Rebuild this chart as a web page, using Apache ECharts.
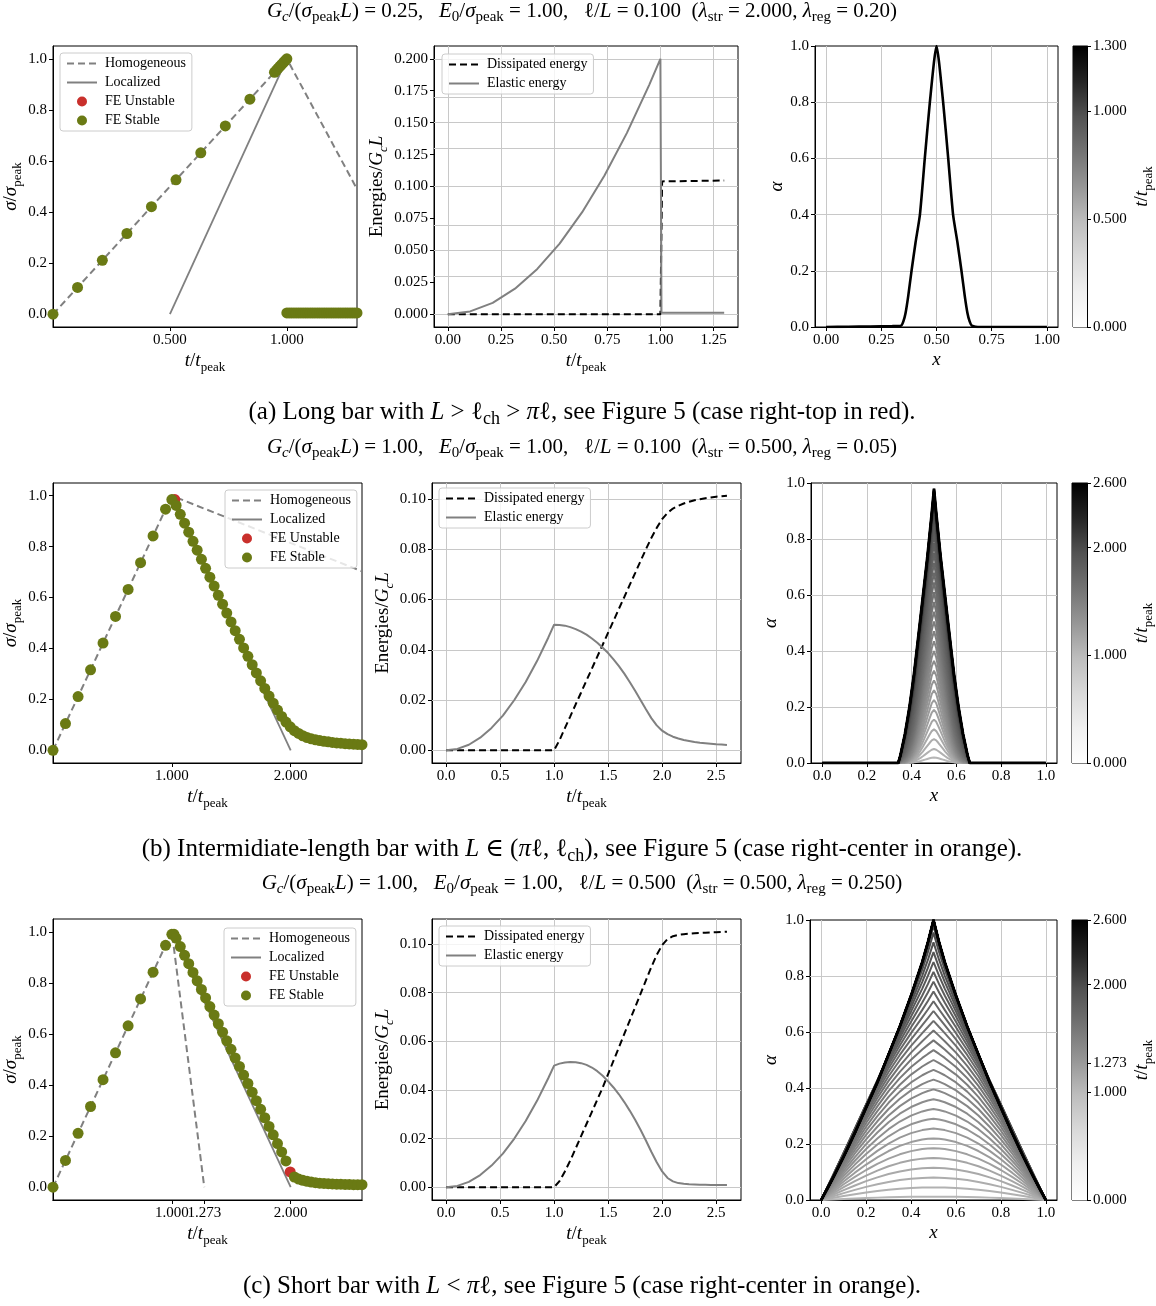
<!DOCTYPE html>
<html><head><meta charset="utf-8">
<script src="https://cdn.jsdelivr.net/npm/echarts@6.0.0/dist/echarts.min.js"></script>
<style>html,body{margin:0;padding:0;background:#fff}#c{width:1156px;height:1306px}</style>
</head><body><div id="c"></div>
<script>
const F = "'Liberation Serif','DejaVu Serif',serif";

// ---------- shared load steps ----------
const tRise = [0, 0.105, 0.211, 0.316, 0.421, 0.526, 0.632, 0.737, 0.842, 0.947];
const sRise = [0, 0.105, 0.211, 0.316, 0.421, 0.526, 0.632, 0.737, 0.842, 0.947];
const tDesc = [1.036, 1.071, 1.107, 1.142, 1.178, 1.213, 1.249, 1.284, 1.320, 1.356,
  1.391, 1.427, 1.462, 1.498, 1.533, 1.569, 1.604, 1.640, 1.676, 1.711,
  1.747, 1.782, 1.818, 1.853, 1.889, 1.924, 1.960, 1.996, 2.031, 2.067,
  2.102, 2.138, 2.173, 2.209, 2.244, 2.280, 2.316, 2.351, 2.387, 2.422,
  2.458, 2.493, 2.529, 2.564, 2.600];

// ---------- (a) long bar ----------
const homT_a = [0, 1.0, 1.3], homS_a = [0, 1.0, 0.49];
const locT_a = [0.5, 1.0], locS_a = [0, 1.0];
const peakT_a = [0.955, 0.962, 0.970, 0.977, 0.985, 0.992, 1.0];
const peakS_a = [0.955, 0.962, 0.970, 0.977, 0.985, 0.992, 1.0];
const flatT_a = [1.0, 1.01, 1.02, 1.03, 1.04, 1.05, 1.06, 1.07, 1.08, 1.09, 1.1, 1.11, 1.12, 1.13, 1.14, 1.15,
  1.16, 1.17, 1.18, 1.19, 1.2, 1.21, 1.22, 1.23, 1.24, 1.25, 1.26, 1.27, 1.28, 1.29, 1.3];
const flatS_a = [0.005, 0.005, 0.005, 0.005, 0.005, 0.005, 0.005, 0.005, 0.005, 0.005, 0.005, 0.005, 0.005,
  0.005, 0.005, 0.005, 0.005, 0.005, 0.005, 0.005, 0.005, 0.005, 0.005, 0.005, 0.005, 0.005, 0.005, 0.005,
  0.005, 0.005, 0.005];
const unstT_a = [], unstS_a = [];
const elT_a = [0, 0.105, 0.211, 0.316, 0.421, 0.526, 0.632, 0.737, 0.842, 0.947, 1.0, 1.005, 1.3];
const el_a = [0, 0.0022, 0.0089, 0.020, 0.0355, 0.0553, 0.0799, 0.1086, 0.1418, 0.1794, 0.200, 0.0012, 0.0012];
const disT_a = [0, 1.0, 1.005, 1.008, 1.3];
const dis_a = [0, 0, 0.001, 0.104, 0.1047];
const alphaX_a = [0, 0.1, 0.2, 0.3, 0.34, 0.35, 0.36, 0.372, 0.387, 0.405, 0.425, 0.447, 0.47, 0.5,
  0.53, 0.553, 0.575, 0.595, 0.613, 0.628, 0.64, 0.65, 0.66, 0.7, 0.8, 0.9, 1.0];
const alpha_a = [0, 0.001, 0.002, 0.003, 0.005, 0.02, 0.05, 0.11, 0.2, 0.3, 0.4, 0.6, 0.8, 1.0,
  0.8, 0.6, 0.4, 0.3, 0.2, 0.11, 0.05, 0.02, 0.005, 0, 0, 0, 0];
const cbTicks_a = [0, 0.5, 1.0, 1.3];

// ---------- (b) intermediate bar ----------
const homT_b = [0, 1.0, 2.6], homS_b = [0, 1.0, 0.703];
const locT_b = [1.0, 2.0], locS_b = [1.0, 0];
const topT_b = [1.0], topS_b = [0.985];
const unstT_b = [1.025], unstS_b = [0.985];
const sDesc_b = [0.962, 0.927, 0.892, 0.857, 0.821, 0.786, 0.750, 0.715, 0.680, 0.645,
  0.609, 0.574, 0.539, 0.504, 0.470, 0.436, 0.402, 0.369, 0.336, 0.304,
  0.273, 0.243, 0.213, 0.185, 0.158, 0.133, 0.111, 0.092, 0.077, 0.066,
  0.057, 0.050, 0.045, 0.041, 0.038, 0.035, 0.033, 0.031, 0.029, 0.028,
  0.026, 0.025, 0.024, 0.023, 0.022];
const tE = [0, 0.105, 0.211, 0.316, 0.421, 0.526, 0.632, 0.737, 0.842, 0.947, 1.0,
  1.05, 1.1, 1.15, 1.2, 1.25, 1.3, 1.35, 1.4, 1.45, 1.5, 1.55, 1.6, 1.65, 1.7, 1.75, 1.8, 1.85, 1.9, 1.95, 2.0,
  2.05, 2.1, 2.15, 2.2, 2.25, 2.3, 2.35, 2.4, 2.45, 2.5, 2.55, 2.6];
const el_b = [0, 0.00055, 0.0022, 0.005, 0.0089, 0.0138, 0.02, 0.0272, 0.0355, 0.0449, 0.050,
  0.0499, 0.0496, 0.049, 0.0482, 0.0472, 0.046, 0.0445, 0.0428, 0.0408, 0.0387,
  0.0362, 0.0335, 0.0305, 0.0272, 0.0237, 0.02, 0.0163, 0.0128, 0.0099, 0.0078,
  0.0064, 0.0054, 0.0047, 0.0041, 0.0037, 0.0033, 0.003, 0.0028, 0.0026, 0.0024, 0.0023, 0.0021];
const dis_b = [0, 0, 0, 0, 0, 0, 0, 0, 0, 0, 0,
  0.004, 0.0088, 0.0135, 0.0183, 0.023, 0.0278, 0.0325, 0.0373, 0.042, 0.0468,
  0.0515, 0.0563, 0.061, 0.0658, 0.0705, 0.0753, 0.08, 0.0845, 0.0885, 0.092,
  0.0945, 0.0962, 0.0973, 0.0982, 0.0989, 0.0995, 0.0999, 0.1003, 0.1006, 0.1009, 0.1011, 0.1013];
const xGrid_b = [0, 0.1, 0.2, 0.3, 0.34, 0.35, 0.36, 0.37, 0.38, 0.39, 0.40, 0.41, 0.42, 0.43, 0.44, 0.45,
  0.46, 0.47, 0.48, 0.49, 0.50, 0.51, 0.52, 0.53, 0.54, 0.55, 0.56, 0.57, 0.58, 0.59, 0.60, 0.61, 0.62,
  0.63, 0.64, 0.65, 0.66, 0.7, 0.8, 0.9, 1.0];
const shapeHigh_b = [0, 0, 0, 0, 0, 0.03, 0.07, 0.11, 0.16, 0.21, 0.27, 0.33, 0.40, 0.47, 0.54, 0.61,
  0.68, 0.75, 0.83, 0.91, 1.0, 0.91, 0.83, 0.75, 0.68, 0.61, 0.54, 0.47, 0.40, 0.33, 0.27, 0.21, 0.16,
  0.11, 0.07, 0.03, 0, 0, 0, 0, 0];
const shapeLow_b = [0, 0, 0, 0, 0, 0, 0, 0, 0.01, 0.03, 0.06, 0.11, 0.18, 0.27, 0.37, 0.48,
  0.6, 0.72, 0.84, 0.95, 1.0, 0.95, 0.84, 0.72, 0.6, 0.48, 0.37, 0.27, 0.18, 0.11, 0.06, 0.03, 0.01,
  0, 0, 0, 0, 0, 0, 0, 0];
const peaks_b = [0.02, 0.05, 0.085, 0.12, 0.155, 0.19, 0.225, 0.26, 0.295, 0.33,
  0.365, 0.40, 0.435, 0.47, 0.505, 0.54, 0.575, 0.61, 0.645, 0.68,
  0.715, 0.75, 0.785, 0.82, 0.85, 0.875, 0.895, 0.91, 0.922, 0.932,
  0.94, 0.946, 0.951, 0.955, 0.959, 0.962, 0.965, 0.968, 0.97, 0.972,
  0.974, 0.976, 0.978, 0.979, 0.98];
const cbTicks_b = [0, 1.0, 2.0, 2.6];

// ---------- (c) short bar ----------
const homT_c = [0, 1.0, 1.273], homS_c = [0, 1.0, 0];
const locT_c = [1.0, 2.0], locS_c = [1.0, 0];
const topT_c = [1.0, 1.018], topS_c = [0.99, 0.99];
const unstT_c = [1.996], unstS_c = [0.060];
const sDesc_c = [0.975, 0.942, 0.908, 0.875, 0.841, 0.808, 0.774, 0.741, 0.707, 0.674,
  0.640, 0.607, 0.573, 0.540, 0.506, 0.473, 0.439, 0.406, 0.372, 0.339,
  0.305, 0.272, 0.238, 0.205, 0.171, 0.138, 0.103, 0.060, 0.040, 0.032,
  0.027, 0.023, 0.020, 0.018, 0.016, 0.015, 0.014, 0.013, 0.012, 0.012,
  0.011, 0.011, 0.010, 0.010, 0.010];
const el_c = [0, 0.00055, 0.0022, 0.005, 0.0089, 0.0138, 0.02, 0.0272, 0.0355, 0.0449, 0.050,
  0.0508, 0.0513, 0.0515, 0.0514, 0.051, 0.0503, 0.0492, 0.0477, 0.0458, 0.0435,
  0.041, 0.0382, 0.035, 0.0315, 0.0277, 0.0236, 0.0192, 0.0146, 0.0103, 0.0065,
  0.0038, 0.0024, 0.0017, 0.0014, 0.0012, 0.0011, 0.001, 0.001, 0.0009, 0.0009, 0.0009, 0.0009];
const dis_c = [0, 0, 0, 0, 0, 0, 0, 0, 0, 0, 0,
  0.0025, 0.0065, 0.011, 0.016, 0.021, 0.026, 0.031, 0.036, 0.041, 0.0465,
  0.052, 0.0575, 0.063, 0.0685, 0.074, 0.0795, 0.085, 0.0905, 0.0955, 0.0995,
  0.102, 0.1032, 0.1037, 0.104, 0.1042, 0.1044, 0.1045, 0.1046, 0.1047, 0.1048, 0.1049, 0.105];
const xGrid_c = [0, 0.05, 0.1, 0.15, 0.2, 0.25, 0.3, 0.35, 0.4, 0.45, 0.475, 0.5, 0.525, 0.55, 0.6,
  0.65, 0.7, 0.75, 0.8, 0.85, 0.9, 0.95, 1.0];
const shapeHigh_c = [0, 0.075, 0.155, 0.24, 0.33, 0.42, 0.52, 0.62, 0.73, 0.85, 0.92, 1.0, 0.92, 0.85, 0.73,
  0.62, 0.52, 0.42, 0.33, 0.24, 0.155, 0.075, 0];
const shapeLow_c = [0, 0.156, 0.309, 0.454, 0.588, 0.707, 0.809, 0.891, 0.951, 0.988, 0.997, 1.0, 0.997, 0.988,
  0.951, 0.891, 0.809, 0.707, 0.588, 0.454, 0.309, 0.156, 0];
const peaks_c = [0.012, 0.045, 0.08, 0.115, 0.15, 0.185, 0.22, 0.255, 0.29, 0.325,
  0.36, 0.395, 0.43, 0.465, 0.5, 0.535, 0.57, 0.605, 0.64, 0.675,
  0.71, 0.745, 0.78, 0.815, 0.85, 0.885, 0.92, 0.955, 0.98, 0.99,
  0.995, 0.997, 0.998, 0.999, 1.0, 1.0, 1.0, 1.0, 1.0, 1.0,
  1.0, 1.0, 1.0, 1.0, 1.0];
const cbTicks_c = [0, 1.0, 1.273, 2.0, 2.6];
const xTicks_c = [1.0, 2.0], xTicksExtra_c = [1.273];

// ---------- helpers ----------
const GREYS = ['#ffffff', '#f0f0f0', '#d9d9d9', '#bdbdbd', '#969696', '#737373', '#525252', '#252525', '#000000'];
function hx(c) { return [1, 3, 5].map(i => parseInt(c.substr(i, 2), 16)); }
function greys(v) {
  v = Math.max(0, Math.min(1, v));
  const p = v * 8, i = Math.min(7, Math.floor(p)), f = p - i;
  const a = hx(GREYS[i]), b = hx(GREYS[i + 1]);
  const c = a.map((x, k) => Math.round(x + (b[k] - x) * f));
  return 'rgb(' + c.join(',') + ')';
}
const P = (ts, ys) => ts.map((t, i) => [t, ys[i]]);
function rich(size) {
  const sub = Math.round(size * 0.7), lh = size + 7;
  const b = {fontFamily: F, color: '#000'};
  return {
    r: Object.assign({fontSize: size, lineHeight: lh}, b),
    i: Object.assign({fontSize: size, lineHeight: lh, fontStyle: 'italic'}, b),
    s: Object.assign({fontSize: sub, lineHeight: sub + 1, verticalAlign: 'bottom'}, b),
    si: Object.assign({fontSize: sub, lineHeight: sub + 1, verticalAlign: 'bottom', fontStyle: 'italic'}, b)
  };
}
const tName = '{i|t}{r|/}{i|t}{s|peak}';
const sigName = '{i|σ}{r|/}{i|σ}{s|peak}';
const enName = '{r|Energies/}{i|G}{si|c}{i|L}';
const alName = '{i|α}';
const xName = '{i|x}';
const NAMEFS = 19;

function vAxis(gi, min, max, ticks, dec, extra) {
  return Object.assign({
    type: 'value', gridIndex: gi, min: min, max: max,
    axisLine: {show: true, onZero: false, lineStyle: {color: '#000', width: 1}},
    axisTick: {show: true, inside: false, length: 4, customValues: ticks, lineStyle: {color: '#000', width: 1}},
    axisLabel: {show: true, customValues: ticks, margin: 6, fontFamily: F, fontSize: 15, color: '#000',
      showMinLabel: true, showMaxLabel: true, hideOverlap: false,
      formatter: v => Number(v).toFixed(dec)},
    splitLine: {show: false},
    nameLocation: 'middle', nameTextStyle: {rich: rich(NAMEFS)}
  }, extra || {});
}
const GL = {color: '#c8c8c8', width: 1, type: 'solid'};
function gridLines(xs, ys) {
  return {silent: true, symbol: ['none', 'none'], z: 1, label: {show: false}, lineStyle: GL,
    emphasis: {disabled: true}, animation: false,
    data: xs.map(v => ({xAxis: v})).concat(ys.map(v => ({yAxis: v})))};
}

const grids = [
  [53, 46, 304, 281], [434, 46, 304, 281], [815, 46, 243, 281], [1073, 46, 15, 281],
  [53, 483, 309, 280], [432, 483, 309, 280], [811, 483, 246, 280], [1072, 483, 16, 280],
  [53, 919, 309, 281], [432, 919, 309, 281], [810, 920, 247, 280], [1072, 920, 17, 280]
].map(g => ({left: g[0], top: g[1], width: g[2], height: g[3], show: true, borderColor: '#000', borderWidth: 1, containLabel: false}));

const xAxes = [], yAxes = [];
function panelStress(gi, xmax, xticks, ymin) {
  xAxes[gi] = vAxis(gi, 0, xmax, xticks, 3, {name: tName, nameGap: 21});
  yAxes[gi] = vAxis(gi, ymin, 1.05, [0, 0.2, 0.4, 0.6, 0.8, 1.0], 1, {name: sigName, nameGap: 24, nameRotate: 90});
}
panelStress(0, 1.3, [0.5, 1.0], -0.05);
panelStress(4, 2.6, [1.0, 2.0], -0.05);
panelStress(8, 2.6, xTicks_c, -0.05);

xAxes[1] = vAxis(1, -0.065, 1.365, [0, 0.25, 0.5, 0.75, 1.0, 1.25], 2, {name: tName, nameGap: 21});
yAxes[1] = vAxis(1, -0.01, 0.21, [0, 0.025, 0.05, 0.075, 0.1, 0.125, 0.15, 0.175, 0.2], 3, {name: enName, nameGap: 41, nameRotate: 90});
xAxes[5] = vAxis(5, -0.13, 2.73, [0, 0.5, 1.0, 1.5, 2.0, 2.5], 1, {name: tName, nameGap: 21});
yAxes[5] = vAxis(5, -0.005065, 0.106365, [0, 0.02, 0.04, 0.06, 0.08, 0.1], 2, {name: enName, nameGap: 36, nameRotate: 90});
xAxes[9] = vAxis(9, -0.13, 2.73, [0, 0.5, 1.0, 1.5, 2.0, 2.5], 1, {name: tName, nameGap: 21});
yAxes[9] = vAxis(9, -0.00525, 0.11025, [0, 0.02, 0.04, 0.06, 0.08, 0.1], 2, {name: enName, nameGap: 36, nameRotate: 90});

xAxes[2] = vAxis(2, -0.05, 1.05, [0, 0.25, 0.5, 0.75, 1.0], 2, {name: xName, nameGap: 20});
yAxes[2] = vAxis(2, 0, 1, [0, 0.2, 0.4, 0.6, 0.8, 1.0], 1, {name: alName, nameGap: 25, nameRotate: 90});
xAxes[6] = vAxis(6, -0.05, 1.05, [0, 0.2, 0.4, 0.6, 0.8, 1.0], 1, {name: xName, nameGap: 20});
yAxes[6] = vAxis(6, 0, 1, [0, 0.2, 0.4, 0.6, 0.8, 1.0], 1, {name: alName, nameGap: 27, nameRotate: 90});
xAxes[10] = vAxis(10, -0.05, 1.05, [0, 0.2, 0.4, 0.6, 0.8, 1.0], 1, {name: xName, nameGap: 20});
yAxes[10] = vAxis(10, 0, 1, [0, 0.2, 0.4, 0.6, 0.8, 1.0], 1, {name: alName, nameGap: 26, nameRotate: 90});

function cbAxes(gi, ticks) {
  xAxes[gi] = {type: 'category', gridIndex: gi, data: ['cb'], show: false};
  yAxes[gi] = vAxis(gi, 0, ticks[ticks.length - 1], ticks, 3, {position: 'right', name: tName, nameGap: 42, nameRotate: 90});
}
cbAxes(3, cbTicks_a); cbAxes(7, cbTicks_b); cbAxes(11, cbTicks_c);
// extra bottom axis in panel (c)-left carrying the 1.273 tick (kept separate so it is not hidden as overlapping)
xAxes[12] = vAxis(8, 0, 2.6, xTicksExtra_c, 3, {position: 'bottom', offset: 0});

// ---------- series ----------
const GRAY = '#808080', GREEN = '#6a7a14', RED = '#c9302c';
const DASH = [7, 4];
const series = [];
function stressSeries(gi, homT, homS, locT, locS, unstT, unstS, stable) {
  series.push({name: 'Homogeneous', type: 'line', xAxisIndex: gi, yAxisIndex: gi, data: P(homT, homS), symbol: 'none',
    lineStyle: {color: GRAY, width: 2, type: DASH}, itemStyle: {color: GRAY}, z: 2});
  series.push({name: 'Localized', type: 'line', xAxisIndex: gi, yAxisIndex: gi, data: P(locT, locS), symbol: 'none',
    lineStyle: {color: GRAY, width: 1.8}, itemStyle: {color: GRAY}, z: 2});
  series.push({name: 'FE Unstable', type: 'scatter', xAxisIndex: gi, yAxisIndex: gi, data: P(unstT, unstS),
    symbolSize: 11, itemStyle: {color: RED, opacity: 1}, z: 3});
  series.push({name: 'FE Stable', type: 'scatter', xAxisIndex: gi, yAxisIndex: gi, data: stable,
    symbolSize: 11, itemStyle: {color: GREEN, opacity: 1}, z: 3});
}
stressSeries(0, homT_a, homS_a, locT_a, locS_a, unstT_a, unstS_a,
  P(tRise, sRise).concat(P(peakT_a, peakS_a), P(flatT_a, flatS_a)));
stressSeries(4, homT_b, homS_b, locT_b, locS_b, unstT_b, unstS_b,
  P(tRise, sRise).concat(P(topT_b, topS_b), P(tDesc, sDesc_b)));
stressSeries(8, homT_c, homS_c, locT_c, locS_c, unstT_c, unstS_c,
  P(tRise, sRise).concat(P(topT_c, topS_c), P(tDesc, sDesc_c).filter(d => unstT_c.indexOf(d[0]) < 0)));

function energySeries(gi, dT, d, eT, e, gx, gy) {
  series.push({name: 'Dissipated energy', type: 'line', xAxisIndex: gi, yAxisIndex: gi, data: P(dT, d), symbol: 'none',
    lineStyle: {color: '#000', width: 2, type: DASH}, itemStyle: {color: '#000'}, z: 2, markLine: gridLines(gx, gy)});
  series.push({name: 'Elastic energy', type: 'line', xAxisIndex: gi, yAxisIndex: gi, data: P(eT, e), symbol: 'none',
    lineStyle: {color: GRAY, width: 2}, itemStyle: {color: GRAY}, z: 2});
}
energySeries(1, disT_a, dis_a, elT_a, el_a, [0, 0.25, 0.5, 0.75, 1.0, 1.25], [0, 0.025, 0.05, 0.075, 0.1, 0.125, 0.15, 0.175, 0.2]);
energySeries(5, tE, dis_b, tE, el_b, [0, 0.5, 1.0, 1.5, 2.0, 2.5], [0, 0.02, 0.04, 0.06, 0.08, 0.1]);
energySeries(9, tE, dis_c, tE, el_c, [0, 0.5, 1.0, 1.5, 2.0, 2.5], [0, 0.02, 0.04, 0.06, 0.08, 0.1]);

// alpha profiles
series.push({name: 'alpha_a', type: 'line', xAxisIndex: 2, yAxisIndex: 2, data: P(alphaX_a, alpha_a), symbol: 'none',
  smooth: 0.2, lineStyle: {color: '#000', width: 2.6}, z: 2, markLine: gridLines([0, 0.25, 0.5, 0.75, 1.0], [0.2, 0.4, 0.6, 0.8])});
function alphaSeries(gi, xs, lo, hi, peaks, tmax) {
  peaks.forEach((p, k) => {
    const last = k === peaks.length - 1;
    const w = p * p;
    const s = {name: 'alpha_' + gi + '_' + k, type: 'line', xAxisIndex: gi, yAxisIndex: gi, symbol: 'none', silent: true,
      data: xs.map((x, j) => [x, p * ((1 - w) * lo[j] + w * hi[j])]),
      lineStyle: {color: greys(tDesc[k] / tmax), width: last ? 2.8 : 2}, z: 2};
    if (k === 0) s.markLine = gridLines([0, 0.2, 0.4, 0.6, 0.8, 1.0], [0.2, 0.4, 0.6, 0.8]);
    series.push(s);
  });
}
alphaSeries(6, xGrid_b, shapeLow_b, shapeHigh_b, peaks_b, 2.6);
alphaSeries(10, xGrid_c, shapeLow_c, shapeHigh_c, peaks_c, 2.6);

// colorbars
const cbGrad = {type: 'linear', x: 0, y: 1, x2: 0, y2: 0, colorStops: GREYS.map((c, i) => ({offset: i / 8, color: c}))};
[[3, cbTicks_a], [7, cbTicks_b], [11, cbTicks_c]].forEach(([gi, tk]) => {
  series.push({name: 'cb' + gi, type: 'bar', xAxisIndex: gi, yAxisIndex: gi, data: [tk[tk.length - 1]],
    barWidth: '100%', silent: true, itemStyle: {color: cbGrad}, z: 1});
});

// legends
const legBase = {orient: 'vertical', itemWidth: 30, itemHeight: 10, itemGap: 4, padding: [3, 6, 3, 6],
  borderColor: '#cccccc', borderWidth: 1, borderRadius: 3, backgroundColor: 'rgba(255,255,255,0.8)',
  selectedMode: false, textStyle: {fontFamily: F, fontSize: 14, color: '#000', lineHeight: 15, padding: [0, 0, 0, 3]}};
const lineItem = n => ({name: n, itemStyle: {opacity: 0}});
const stressLeg = [lineItem('Homogeneous'), lineItem('Localized'), 'FE Unstable', 'FE Stable'];
const enLeg = [lineItem('Dissipated energy'), lineItem('Elastic energy')];
const legends = [
  Object.assign({}, legBase, {data: stressLeg, left: 60, top: 53}),
  Object.assign({}, legBase, {data: enLeg, left: 442, top: 54}),
  Object.assign({}, legBase, {data: stressLeg, left: 225, top: 490}),
  Object.assign({}, legBase, {data: enLeg, left: 439, top: 488}),
  Object.assign({}, legBase, {data: stressLeg, left: 224, top: 928}),
  Object.assign({}, legBase, {data: enLeg, left: 439, top: 926})
];

// titles & captions
const TFS = 21, CFS = 25;
const texts = [
  {y: 11, size: TFS, s: '{i|G}{si|c}{r|/(}{i|σ}{s|peak}{i|L}{r|) = 0.25,   }{i|E}{s|0}{r|/}{i|σ}{s|peak}{r| = 1.00,   ℓ/}{i|L}{r| = 0.100  (}{i|λ}{s|str}{r| = 2.000, }{i|λ}{s|reg}{r| = 0.20)}'},
  {y: 412, size: CFS, s: '{r|(a) Long bar with }{i|L}{r| > ℓ}{s|ch}{r| > }{i|π}{r|ℓ, see Figure 5 (case right-top in red).}'},
  {y: 447, size: TFS, s: '{i|G}{si|c}{r|/(}{i|σ}{s|peak}{i|L}{r|) = 1.00,   }{i|E}{s|0}{r|/}{i|σ}{s|peak}{r| = 1.00,   ℓ/}{i|L}{r| = 0.100  (}{i|λ}{s|str}{r| = 0.500, }{i|λ}{s|reg}{r| = 0.05)}'},
  {y: 849, size: CFS, s: '{r|(b) Intermidiate-length bar with }{i|L}{r| ∈ (}{i|π}{r|ℓ, ℓ}{s|ch}{r|), see Figure 5 (case right-center in orange).}'},
  {y: 883, size: TFS, s: '{i|G}{si|c}{r|/(}{i|σ}{s|peak}{i|L}{r|) = 1.00,   }{i|E}{s|0}{r|/}{i|σ}{s|peak}{r| = 1.00,   ℓ/}{i|L}{r| = 0.500  (}{i|λ}{s|str}{r| = 0.500, }{i|λ}{s|reg}{r| = 0.250)}'},
  {y: 1286, size: CFS, s: '{r|(c) Short bar with }{i|L}{r| < }{i|π}{r|ℓ, see Figure 5 (case right-center in orange).}'}
];
const graphic = texts.map(t => ({type: 'text', x: 582, y: t.y, silent: true, z: 10,
  style: {text: t.s, rich: rich(t.size), align: 'center', verticalAlign: 'middle', fill: '#000', fontFamily: F, fontSize: t.size}}));

const chart = echarts.init(document.getElementById('c'), null, {renderer: 'canvas'});
chart.setOption({
  animation: false,
  backgroundColor: '#ffffff',
  grid: grids, xAxis: xAxes, yAxis: yAxes, series: series, legend: legends, graphic: graphic
});
</script></body></html>
